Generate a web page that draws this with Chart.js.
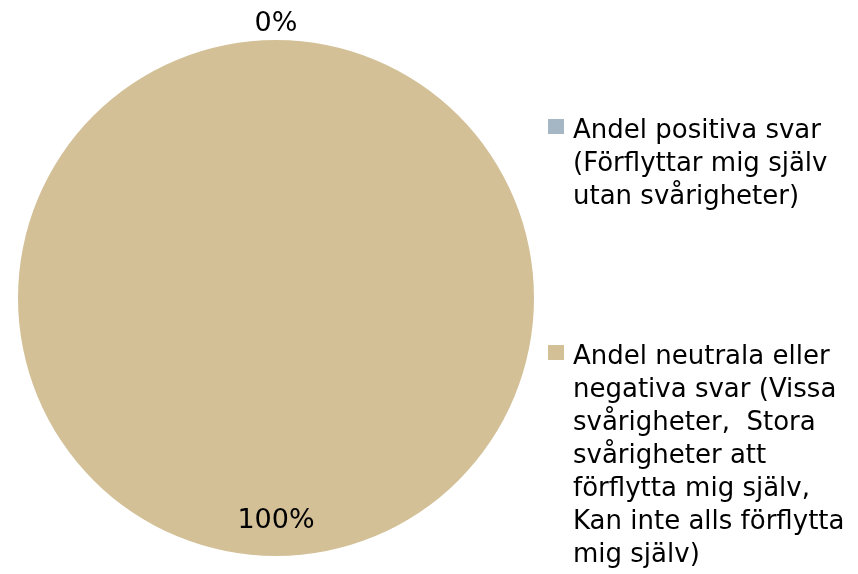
<!DOCTYPE html>
<html><head><meta charset="utf-8">
<script src="https://cdn.jsdelivr.net/npm/chart.js@4.4.1/dist/chart.umd.min.js"></script>
<style>
html,body{margin:0;padding:0;background:#fff;}
#wrap{position:relative;width:858px;height:574px;overflow:hidden;}
#c{position:absolute;left:0;top:0;}
.leg{position:absolute;left:548px;font-family:"DejaVu Sans",sans-serif;font-size:26px;line-height:33px;color:#000;white-space:nowrap;}
.leg .sw{position:absolute;left:0;width:16px;height:15px;}
.leg .tx{position:absolute;left:25px;top:0;}
</style></head>
<body><div id="wrap"><canvas id="c" width="858" height="574"></canvas></div>
<script>
const categories = [
  ["Andel positiva svar", "(Förflyttar mig själv", "utan svårigheter)"],
  ["Andel neutrala eller", "negativa svar (Vissa", "svårigheter,  Stora", "svårigheter att", "förflytta mig själv,", "Kan inte alls förflytta", "mig själv)"]
];
const values = [0, 100];
const valueLabels = ["0%", "100%"];
const colors = ["#A5B7C4", "#D3C097"];

const labelPlugin = {
  id: 'pieLabels',
  afterDatasetsDraw(chart) {
    const ctx = chart.ctx;
    const meta = chart.getDatasetMeta(0);
    ctx.save();
    ctx.font = '27px "DejaVu Sans", sans-serif';
    ctx.fillStyle = '#000';
    ctx.textAlign = 'center';
    ctx.textBaseline = 'middle';
    meta.data.forEach((arc, i) => {
      const p = arc.getProps(['x','y','startAngle','endAngle','outerRadius'], true);
      const mid = (p.startAngle + p.endAngle) / 2;
      const r = values[i] === 0 ? p.outerRadius + 16 : p.outerRadius * 0.865;
      ctx.fillText(valueLabels[i], p.x + Math.cos(mid) * r, p.y + Math.sin(mid) * r);
    });
    ctx.restore();
  }
};

const chart = new Chart(document.getElementById('c'), {
  type: 'pie',
  data: {
    labels: categories.map(l => l.join(' ')),
    datasets: [{ data: values, backgroundColor: colors, borderWidth: 0 }]
  },
  options: {
    responsive: false,
    animation: false,
    layout: { padding: { left: 18, right: 324, top: 40, bottom: 18 } },
    plugins: { legend: { display: false }, tooltip: { enabled: false } }
  },
  plugins: [labelPlugin]
});

// legend built from chart data
const legendTops = [113, 339];
const wrap = document.getElementById('wrap');
categories.forEach((lines, i) => {
  const d = document.createElement('div');
  d.className = 'leg';
  d.style.top = legendTops[i] + 'px';
  const sw = document.createElement('div');
  sw.className = 'sw';
  sw.style.background = colors[i];
  sw.style.top = '6px';
  const tx = document.createElement('div');
  tx.className = 'tx';
  tx.innerHTML = lines.map(s => s.replace(/ /g,'&nbsp;')).join('<br>');
  d.appendChild(sw); d.appendChild(tx);
  wrap.appendChild(d);
});
</script></body></html>
